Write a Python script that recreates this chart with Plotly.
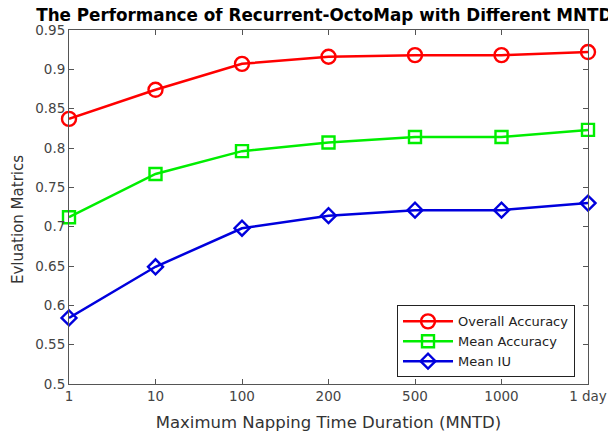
import plotly.graph_objects as go

categories = ["1", "10", "100", "200", "500", "1000", "1 day"]
overall_accuracy = [0.837, 0.874, 0.907, 0.916, 0.918, 0.918, 0.922]
mean_accuracy = [0.712, 0.767, 0.796, 0.807, 0.814, 0.814, 0.823]
mean_iu = [0.584, 0.649, 0.698, 0.714, 0.721, 0.721, 0.730]
y_ticks = [0.5, 0.55, 0.6, 0.65, 0.7, 0.75, 0.8, 0.85, 0.9, 0.95]
y_tick_text = ["0.5", "0.55", "0.6", "0.65", "0.7", "0.75", "0.8", "0.85", "0.9", "0.95"]

x = list(range(len(categories)))

fig = go.Figure()
series = [
    ("Overall Accuracy", overall_accuracy, "#ff0000", "circle-open", 14),
    ("Mean Accuracy", mean_accuracy, "#00ee00", "square-open", 12),
    ("Mean IU", mean_iu, "#0000dd", "diamond-open", 11.5),
]
for name, vals, color, sym, sz in series:
    fig.add_trace(go.Scatter(
        x=x, y=vals, name=name, mode="lines+markers",
        line=dict(color=color, width=2.5),
        marker=dict(symbol=sym, size=sz, color=color, line=dict(color=color, width=2.4)),
        cliponaxis=False,
    ))

axis_common = dict(
    showline=True, linecolor="#555555", linewidth=1, mirror="ticks",
    ticks="inside", ticklen=5, tickcolor="#555555", showgrid=False, zeroline=False,
    tickfont=dict(family="DejaVu Sans", size=13.5, color="#444444"),
)

fig.update_layout(
    width=608, height=427,
    margin=dict(l=61, r=28, t=22, b=51, autoexpand=False),
    paper_bgcolor="white", plot_bgcolor="white",
    title=dict(text="<b>The Performance of Recurrent-OctoMap with Different MNTD</b>",
               x=0.492, xref="paper", xanchor="center", y=0.984, yanchor="middle",
               yref="container",
               font=dict(family="DejaVu Sans", size=16.8, color="black")),
    xaxis=dict(range=[0, 6], tickvals=x, ticktext=categories,
               title=dict(text="Maximum Napping Time Duration (MNTD)", standoff=13,
                          font=dict(family="DejaVu Sans", size=16.5, color="#333333")),
               **axis_common),
    yaxis=dict(range=[0.5, 0.95], tickvals=y_ticks, ticktext=y_tick_text, **axis_common),
    legend=dict(x=0.632, y=0.222, xanchor="left", yanchor="top",
                bgcolor="white", bordercolor="#222222", borderwidth=1,
                font=dict(family="DejaVu Sans", size=13, color="#222222"),
                tracegroupgap=0, itemwidth=50),
    showlegend=True,
    annotations=[dict(text="Evluation Matrics", textangle=-90, showarrow=False,
                      xref="paper", x=0, xanchor="center", xshift=-51,
                      yref="paper", y=0.463, yanchor="middle",
                      font=dict(family="DejaVu Sans", size=15, color="#333333"))],
)

fig.write_html("out.html")
